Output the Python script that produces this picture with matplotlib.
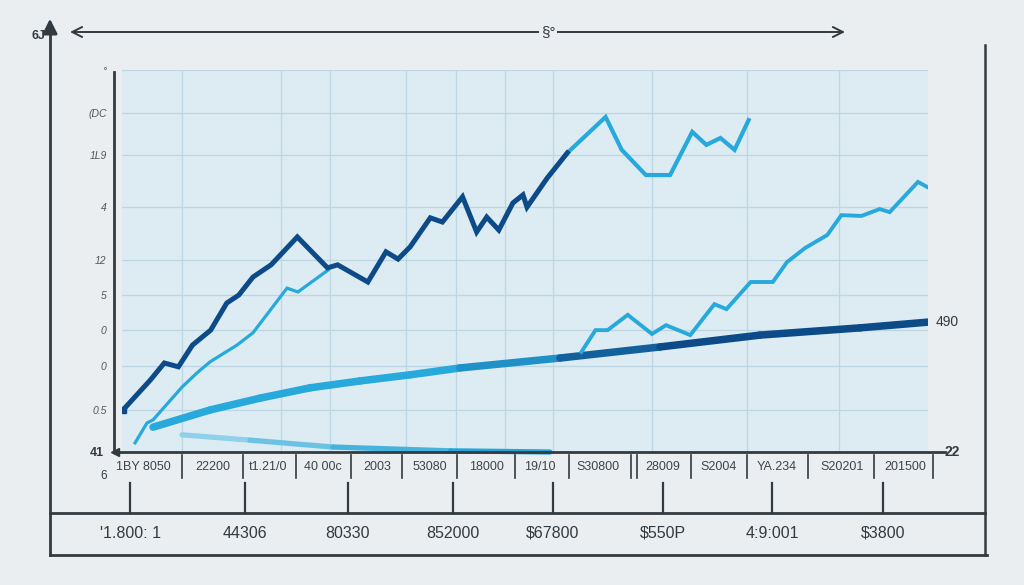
import matplotlib
matplotlib.use('Agg')
import matplotlib.pyplot as plt
import numpy as np
from matplotlib.collections import LineCollection
from matplotlib.colors import LinearSegmentedColormap

plt.rcParams['font.family'] = ['Liberation Sans', 'DejaVu Sans']

# ---- data (x = period index 0..40, y = value 0..100) ----
main_x = [0.05, 1.4, 2.1, 2.8, 3.5, 4.4, 5.2, 5.8, 6.5, 7.4, 8.7, 10.2, 10.7, 12.2,
          13.1, 13.7, 14.3, 15.3, 15.9, 16.9, 17.6, 18.1, 18.7, 19.4, 19.9, 20.1,
          21.1, 22.1]
main_y = [11.0, 18.8, 23.3, 22.3, 28.0, 31.9, 39.0, 41.1, 45.8, 49.0, 56.3, 48.2, 49.0, 44.5,
          52.4, 50.5, 53.7, 61.3, 60.2, 66.8, 57.6, 61.5, 58.1, 65.2, 67.3, 64.1,
          71.7, 78.3]
tail_x = [22.1, 24.0, 24.8, 26.0, 27.2, 28.3, 29.0, 29.7, 30.4, 31.1]
tail_y = [78.3, 87.7, 79.1, 72.5, 72.5, 83.8, 80.4, 82.2, 79.1, 86.9]

early_x = [0.65, 1.24, 1.54, 2.98, 3.72, 4.37, 5.71, 6.5, 8.19, 8.73, 10.22]
early_y = [2.4, 7.6, 8.4, 17.0, 20.7, 23.6, 28.0, 31.2, 42.9, 41.9, 47.6]

late_x = [22.8, 23.5, 24.1, 25.1, 26.3, 27.0, 28.2, 29.4, 30.0, 31.2, 32.3, 33.0,
          33.9, 35.0, 35.7, 36.7, 37.6, 38.1, 39.5, 39.95]
late_y = [26.2, 31.9, 31.9, 35.9, 30.9, 33.2, 30.6, 38.7, 37.4, 44.5, 44.5, 49.7,
          53.4, 56.8, 62.0, 61.8, 63.6, 62.8, 70.7, 69.4]

trend_x = [1.54, 4.37, 6.85, 9.33, 11.81, 14.29, 16.77, 21.74, 26.7, 31.66, 36.63, 40.0]
trend_y = [6.5, 11.0, 14.1, 16.8, 18.6, 20.2, 22.0, 24.6, 27.5, 30.6, 32.5, 34.0]

low_x = [2.98, 6.35, 10.47, 16.3, 21.24]
low_y = [4.5, 3.1, 1.3, 0.3, 0.0]

grid_x = [3.0, 7.9, 10.3, 14.1, 16.6, 19.0, 21.4, 26.3, 31.0, 35.6]
grid_y = [100, 88.7, 77.7, 64.1, 50.3, 41.1, 31.9, 22.5, 11.0]
y_labels = ['°', '(DC', '1L9', '4', '12', '5', '0', '0', '0.5']

small_labels = ['1BY 8050', '22200', 't1.21/0', '40 00c', '2003', '53080', '18000',
                '19/10', 'S30800', '28009', 'S2004', 'YA.234', 'S20201', '201500']
small_label_px = [143, 213, 268, 323, 377, 430, 487, 540, 598, 663, 719, 777, 842, 905]
separator_px = [182, 243, 296, 351, 402, 457, 515, 569, 631, 637, 691, 747, 808, 874, 933]

big_labels = ["'1.800: 1", '44306', '80330', '852000', '$67800', '$550P', '4:9:001', '$3800']
big_label_px = [130, 245, 348, 453, 553, 663, 772, 883]

NAVY = '#0c4a88'
LIGHT = '#27a9dc'
INK = '#333a40'

W, H = 1024, 585
fig = plt.figure(figsize=(W / 100, H / 100), dpi=100)
fig.patch.set_facecolor('#eaeef1')

# main plotting area
ax = fig.add_axes([122 / W, (H - 452) / H, 806 / W, 382 / H])
ax.set_facecolor('#ddebf3')
ax.set_xlim(0, 40)
ax.set_ylim(0, 100)
for s in ax.spines.values():
    s.set_visible(False)
ax.set_xticks(grid_x)
ax.set_xticklabels([])
ax.set_yticks(grid_y)
ax.set_yticklabels(y_labels, fontsize=7.5, color='#555', style='italic')
ax.tick_params(length=0, pad=11)
ax.grid(True, color='#bdd6e3', linewidth=0.9)
ax.set_axisbelow(True)

# trend band: light blue on the left, navy on the right
cmap = LinearSegmentedColormap.from_list(
    'tr', [(0, LIGHT), (0.55, LIGHT), (0.75, NAVY), (1, NAVY)])
pts = np.column_stack([trend_x, trend_y])
segs = [pts[i:i + 2] for i in range(len(pts) - 1)]
lc = LineCollection(segs, colors=cmap(np.linspace(0, 1, len(segs))), linewidths=5.4,
                    capstyle='round', zorder=3)
ax.add_collection(lc)

# faint lower curve
cmap2 = LinearSegmentedColormap.from_list('lo', ['#8fd0ea', '#22a5d8'])
pts = np.column_stack([low_x, low_y])
segs = [pts[i:i + 2] for i in range(len(pts) - 1)]
ax.add_collection(LineCollection(segs, colors=cmap2(np.linspace(0, 1, len(segs))),
                                 linewidths=3.8, capstyle='round', zorder=3, clip_on=False))

ax.plot(early_x, early_y, color=LIGHT, lw=2.3, solid_joinstyle='miter', zorder=4)
ax.plot(late_x, late_y, color=LIGHT, lw=2.8, solid_joinstyle='miter', zorder=4)
ax.plot(tail_x, tail_y, color=LIGHT, lw=3.0, solid_joinstyle='miter', zorder=4)
ax.plot(main_x, main_y, color=NAVY, lw=3.6, solid_joinstyle='miter', zorder=5)
ax.plot(main_x[:1], main_y[:1], 's', color=NAVY, ms=5, zorder=5)

ax.text(1.02, 0.0, '22', transform=ax.transAxes, fontsize=10, fontweight='bold',
        color=INK, va='center', ha='left')
ax.text(trend_x[-1] + 0.4, trend_y[-1], '490', fontsize=10, color=INK, va='center', ha='left')

# decoration layer in pixel units
deco = fig.add_axes([0, 0, 1, 1], zorder=5)
deco.set_xlim(0, W)
deco.set_ylim(H, 0)
deco.axis('off')
deco.patch.set_alpha(0)

# outer left axis with arrow
deco.plot([50, 50], [555, 30], color=INK, lw=2)
deco.annotate('', xy=(50, 16), xytext=(50, 34),
              arrowprops=dict(arrowstyle='-|>', color=INK, lw=2, mutation_scale=22))
deco.text(38, 36, '6J', fontsize=9, fontweight='bold', color=INK, ha='center', va='center')

# top double arrow
deco.annotate('', xy=(70, 32), xytext=(845, 32),
              arrowprops=dict(arrowstyle='<->', color=INK, lw=1.4, mutation_scale=18,
                              shrinkA=0, shrinkB=0))
deco.text(548, 32, '§°', fontsize=11, color=INK, ha='center', va='center',
          bbox=dict(facecolor='#eaeef1', edgecolor='none', pad=1.5))

# right frame line and bottom box
deco.plot([985, 985], [45, 555], color=INK, lw=1.8)
deco.plot([50, 985], [513, 513], color=INK, lw=2)
deco.plot([50, 987], [555, 555], color=INK, lw=2)
for px in big_label_px:
    deco.plot([px, px], [483, 513], color=INK, lw=1.6)
for px, lab in zip(big_label_px, big_labels):
    deco.text(px, 533, lab, fontsize=11.5, color=INK, ha='center', va='center')

# inner axes lines
deco.plot([114, 114], [72, 452], color=INK, lw=2)
deco.plot([114, 945], [452, 452], color=INK, lw=2)
deco.plot([115], [452], marker='<', color=INK, ms=6)
deco.text(97, 453, '41', fontsize=9, fontweight='bold', color=INK, ha='center', va='center')
deco.text(104, 476, '6', fontsize=8.5, color=INK, ha='center', va='center')

for px in separator_px:
    deco.plot([px, px], [455, 478], color=INK, lw=1.2)
for px, lab in zip(small_label_px, small_labels):
    deco.text(px, 467, lab, fontsize=9, color='#3d444a', ha='center', va='center')

fig.savefig('out.png', dpi=100, facecolor=fig.get_facecolor())
